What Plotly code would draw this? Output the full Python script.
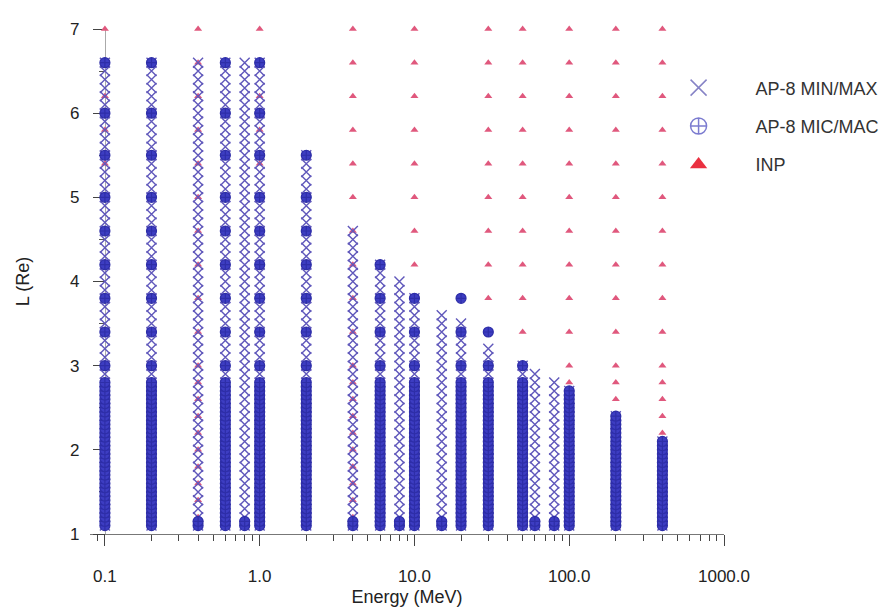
import plotly.graph_objects as go

# ---------------- data ----------------
# AP-8 energy channels (MeV)
ap8_energy = [0.1, 0.2, 0.4, 0.6, 0.8, 1.0, 2.0, 4.0, 6.0, 8.0, 10.0, 15.0,
              20.0, 30.0, 50.0, 60.0, 80.0, 100.0, 200.0, 400.0]
# highest L (Re) with AP-8 MIN/MAX data at each energy
minmax_lmax = [6.6, 6.6, 6.6, 6.6, 6.6, 6.6, 5.5, 4.6, 4.2, 4.0, 3.8, 3.6,
               3.5, 3.2, 3.0, 2.9, 2.8, 2.7, 2.4, 2.1]
# highest L (Re) with AP-8 MIC/MAC data at each energy
micmac_lmax = [6.6, 6.6, 1.15, 6.6, 1.15, 6.6, 5.5, 1.15, 4.2, 1.15, 3.8, 1.15,
               3.4, 3.0, 3.0, 1.15, 1.15, 2.7, 2.4, 2.1]
# isolated MIC/MAC points above the main column
micmac_extra_energy = [20.0, 30.0]
micmac_extra_L = [3.8, 3.4]

# L grids (Re)
minmax_L_grid = [1.1, 1.2, 1.3, 1.4, 1.5, 1.6, 1.7, 1.8, 1.9, 2.0,
                 2.1, 2.2, 2.3, 2.4, 2.5, 2.6, 2.7, 2.8, 2.9, 3.0,
                 3.1, 3.2, 3.3, 3.4, 3.5, 3.6, 3.7, 3.8, 3.9, 4.0,
                 4.1, 4.2, 4.3, 4.4, 4.5, 4.6, 4.7, 4.8, 4.9, 5.0,
                 5.1, 5.2, 5.3, 5.4, 5.5, 5.6, 5.7, 5.8, 5.9, 6.0,
                 6.1, 6.2, 6.3, 6.4, 6.5, 6.6]
micmac_L_grid = [1.1, 1.15, 1.2, 1.25, 1.3, 1.35, 1.4, 1.45, 1.5, 1.55,
                 1.6, 1.65, 1.7, 1.75, 1.8, 1.85, 1.9, 1.95, 2.0, 2.05,
                 2.1, 2.15, 2.2, 2.25, 2.3, 2.35, 2.4, 2.45, 2.5, 2.55,
                 2.6, 2.65, 2.7, 2.75, 2.8, 3.0, 3.4, 3.8, 4.2, 4.6,
                 5.0, 5.5, 6.0, 6.6]

# INP model grid
inp_energy = [0.1, 0.4, 1.0, 4.0, 10.0, 30.0, 50.0, 100.0, 200.0, 400.0]
inp_L_grid = [1.2, 1.4, 1.6, 1.8, 2.0, 2.2, 2.4, 2.6, 2.8, 3.0,
              3.4, 3.8, 4.2, 4.6, 5.0, 5.4, 5.8, 6.2, 6.6, 7.0]

x_tickvals = [0.1, 1, 10, 100, 1000]
x_ticktext = ["0.1", "1.0", "10.0", "100.0", "1000.0"]
y_tickvals = [1, 2, 3, 4, 5, 6, 7]

# ---------------- build point sets ----------------
EPS = 1e-9
mm_x, mm_y = [], []
for e, lmax in zip(ap8_energy, minmax_lmax):
    for L in minmax_L_grid:
        if L <= lmax + EPS:
            mm_x.append(e)
            mm_y.append(L)

mc_x, mc_y = [], []
for e, lmax in zip(ap8_energy, micmac_lmax):
    for L in micmac_L_grid:
        if L <= lmax + EPS:
            mc_x.append(e)
            mc_y.append(L)
mc_x += micmac_extra_energy
mc_y += micmac_extra_L

inp_x, inp_y = [], []
for e in inp_energy:
    for L in inp_L_grid:
        inp_x.append(e)
        inp_y.append(L)

# ---------------- figure ----------------
FONT = "Liberation Sans, Arial, sans-serif"
X_COL = "#6058bb"
C_FILL = "#3d3dc2"
C_LINE = "#2e2ea8"
T_COL = "#e0587d"

fig = go.Figure()
fig.add_trace(go.Scatter(
    x=inp_x, y=inp_y, mode="markers", showlegend=False, cliponaxis=False,
    marker=dict(symbol="triangle-up", size=7, color=T_COL,
                line=dict(width=0))))
fig.add_trace(go.Scatter(
    x=mm_x, y=mm_y, mode="markers", showlegend=False, cliponaxis=False,
    marker=dict(symbol="x-thin-open", size=10, color=X_COL,
                line=dict(width=1.4, color=X_COL))))
fig.add_trace(go.Scatter(
    x=mc_x, y=mc_y, mode="markers", showlegend=False, cliponaxis=False,
    marker=dict(symbol="circle-cross", size=10, color=C_FILL,
                line=dict(width=1.2, color=C_LINE))))

# legend entries
fig.add_trace(go.Scatter(
    x=[None], y=[None], mode="markers", name="AP-8 MIN/MAX", legendgroup="a",
    marker=dict(symbol="x-thin-open", size=16, color="#8683c6",
                line=dict(width=1.5, color="#8683c6"))))
fig.add_trace(go.Scatter(
    x=[None], y=[None], mode="markers", name="AP-8 MIC/MAC", legendgroup="b",
    marker=dict(symbol="circle-cross-open", size=16, color="#7c7cd0",
                line=dict(width=1.5, color="#7c7cd0"))))
fig.add_trace(go.Scatter(
    x=[None], y=[None], mode="markers", name="INP", legendgroup="c",
    marker=dict(symbol="triangle-up", size=15, color="#ea3040",
                line=dict(width=0))))

L_MARGIN, R_MARGIN, T_MARGIN, B_MARGIN = 82, 169, 16, 77
plot_w = 889 - L_MARGIN - R_MARGIN

fig.update_layout(
    width=889, height=607,
    margin=dict(l=L_MARGIN, r=R_MARGIN, t=T_MARGIN, b=B_MARGIN),
    paper_bgcolor="white", plot_bgcolor="white",
    font=dict(family=FONT, size=17, color="#222222"),
    legend=dict(x=0.87, y=0.92, xanchor="left", yanchor="top",
                font=dict(size=18, color="#333333"),
                itemwidth=104, tracegroupgap=12, bgcolor="rgba(0,0,0,0)"),
    xaxis=dict(
        type="log", range=[-1.0963, 3.0],
        tickmode="array", tickvals=x_tickvals, ticktext=x_ticktext,
        ticks="outside", ticklen=11, tickwidth=1, tickcolor="#444444",
        showline=True, linecolor="#777777", linewidth=1,
        showgrid=False, zeroline=False, ticklabelstandoff=16,
        minor=dict(ticks="outside", ticklen=6, tickwidth=1,
                   tickcolor="#444444", dtick="D1", showgrid=False),
        title=dict(text="Energy (MeV)", font=dict(size=18), standoff=4),
        layer="below traces"),
    yaxis=dict(
        range=[1.0, 7.0], anchor="free", position=15 / plot_w,
        tickmode="array", tickvals=y_tickvals,
        ticks="outside", ticklen=12, tickwidth=1, tickcolor="#444444",
        showline=True, linecolor="#aaaaaa", linewidth=1,
        showgrid=False, zeroline=False, ticklabelstandoff=10,
        minor=dict(ticks="outside", ticklen=6, tickwidth=1,
                   tickcolor="#555555", dtick=0.5, showgrid=False),
        title=dict(text="L (Re)", font=dict(size=18), standoff=34),
        layer="below traces"),
)

fig.write_html("out.html")
